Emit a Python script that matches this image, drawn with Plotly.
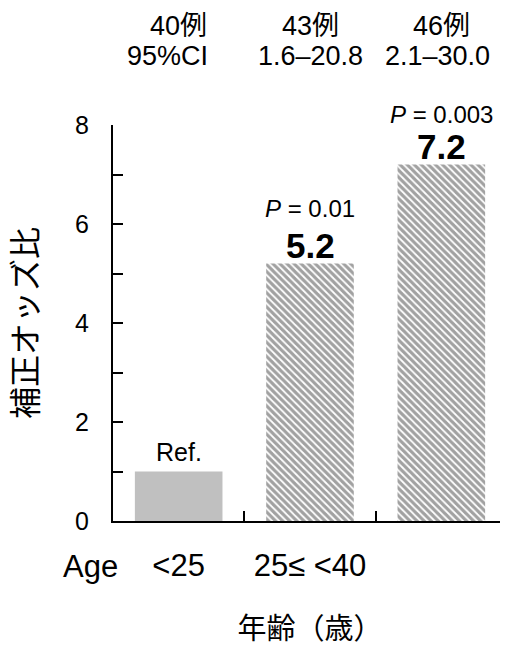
import plotly.graph_objects as go

groups = ["g1", "g2", "g3"]
tick_labels = ["<25", "25≤ <40", ""]
odds_ratios = [1.0, 5.2, 7.2]
value_labels = ["", "5.2", "7.2"]
case_counts = ["40例", "43例", "46例"]
ci_labels = ["95%CI", "1.6–20.8", "2.1–30.0"]
p_labels = ["", "<i>P</i> = 0.01", "<i>P</i> = 0.003"]
ref_label = "Ref."
y_title = "補正オッズ比"
x_title = "年齢（歳）"
age_label = "Age"

FONT = "Arial, 'Liberation Sans', 'Noto Sans CJK JP', sans-serif"

fig = go.Figure()
fig.add_trace(go.Bar(
    x=groups,
    y=odds_ratios,
    width=0.667,
    marker=dict(
        color=["#c0c0c0", "white", "white"],
        line=dict(width=0),
        pattern=dict(
            shape=["", "\\", "\\"],
            fgcolor="black",
            bgcolor="white",
            size=5,
            solidity=0.65,
        ),
    ),
    showlegend=False,
    hoverinfo="skip",
))

annotations = []
p_shifts = [0, 40, 35]
for g, v, lab, p, ps in zip(groups, odds_ratios, value_labels, p_labels, p_shifts):
    if lab:
        annotations.append(dict(x=g, xref="x", y=v, yref="y", text="<b>" + lab + "</b>",
                                showarrow=False, yanchor="bottom", yshift=-3,
                                font=dict(size=35)))
    if p:
        annotations.append(dict(x=g, xref="x", y=v, yref="y", text=p,
                                showarrow=False, yanchor="bottom", yshift=ps,
                                font=dict(size=24)))

count_xshift = [0, 0, 0]
ci_xshift = [-11, 0, -4]
for g, c, xs in zip(groups, case_counts, count_xshift):
    annotations.append(dict(x=g, xref="x", y=1, yref="paper", yanchor="bottom",
                            xshift=xs, yshift=82, text=c, showarrow=False,
                            font=dict(size=27)))
for g, ci, xs in zip(groups, ci_labels, ci_xshift):
    annotations.append(dict(x=g, xref="x", y=1, yref="paper", yanchor="top",
                            xshift=xs, yshift=86, text=ci, showarrow=False,
                            font=dict(size=27)))
annotations.append(dict(x=groups[0], xref="x", y=odds_ratios[0], yref="y", text=ref_label,
                        showarrow=False, yanchor="bottom", yshift=4, font=dict(size=25)))
annotations.append(dict(x=0, xref="paper", y=0, yref="paper", text=age_label,
                        showarrow=False, xanchor="center", yanchor="middle",
                        xshift=-23, yshift=-45, font=dict(size=31)))

fig.update_layout(
    width=500, height=640,
    margin=dict(l=105, r=1, t=117, b=127),
    paper_bgcolor="white", plot_bgcolor="white",
    font=dict(family=FONT, color="black"),
    bargap=0.333,
    xaxis=dict(
        type="category",
        categoryorder="array", categoryarray=groups,
        tickmode="array", tickvals=groups, ticktext=tick_labels,
        tickson="boundaries",
        ticks="inside", ticklen=10, tickwidth=2, tickcolor="black",
        showline=True, linecolor="black", linewidth=2,
        showgrid=False, zeroline=False,
        range=[-0.5, 2.5],
        tickfont=dict(size=31),
        ticklabelstandoff=16,
        title=dict(text=x_title, font=dict(size=29), standoff=36),
        fixedrange=True,
    ),
    yaxis=dict(
        range=[0, 8],
        tickmode="array", tickvals=[0, 2, 4, 6, 8],
        ticks="inside", ticklen=10, tickwidth=2, tickcolor="black",
        minor=dict(tickvals=[1, 3, 5, 7], ticks="inside", ticklen=10,
                   tickwidth=2, tickcolor="black", showgrid=False),
        showline=True, linecolor="black", linewidth=2,
        showgrid=False, zeroline=False,
        tickfont=dict(size=25),
        ticklabelstandoff=17,
        title=dict(text=y_title, font=dict(size=32), standoff=29),
        fixedrange=True,
    ),
    annotations=annotations,
)

fig.write_html("out.html")
